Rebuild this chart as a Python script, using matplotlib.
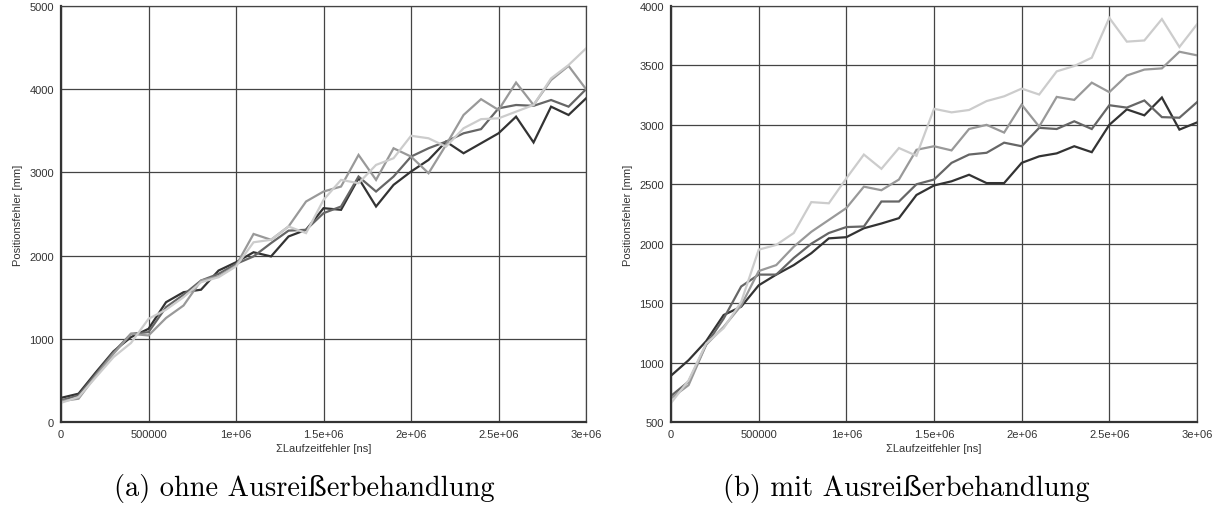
# coding: utf-8

import matplotlib
matplotlib.use("Agg")
import matplotlib.pyplot as plt
from matplotlib.ticker import FuncFormatter

# Laufzeitfehler-Summe [ns], ein Punkt alle 100000 ns
laufzeit = list(range(0, 3000001, 100000))

# (a) ohne Ausreisserbehandlung
a_dunkel = [290, 340, 600, 850, 1020, 1120, 1440, 1560, 1590, 1820, 1920,
            2040, 1990, 2230, 2310, 2570, 2550, 2930, 2590, 2850, 3010, 3150,
            3370, 3230, 3350, 3470, 3670, 3360, 3790, 3690, 3890]
a_mittel = [260, 320, 580, 840, 1060, 1080, 1380, 1530, 1700, 1780, 1900,
            1990, 2150, 2300, 2310, 2510, 2590, 2950, 2770, 2950, 3190, 3290,
            3370, 3470, 3520, 3770, 3810, 3800, 3870, 3790, 4000]
a_grau = [250, 280, 560, 820, 1060, 1040, 1250, 1400, 1700, 1750, 1880,
          2260, 2190, 2350, 2650, 2770, 2830, 3210, 2910, 3290, 3190, 2990,
          3330, 3690, 3880, 3750, 4080, 3810, 4110, 4280, 4000]
a_hell = [230, 300, 540, 780, 950, 1240, 1350, 1500, 1680, 1740, 1870,
          2160, 2190, 2350, 2270, 2670, 2910, 2870, 3090, 3170, 3440, 3410,
          3310, 3530, 3640, 3650, 3730, 3810, 4130, 4290, 4490]

# (b) mit Ausreisserbehandlung
b_dunkel = [890, 1020, 1180, 1400, 1470, 1650, 1740, 1820, 1920, 2045, 2055,
            2130, 2170, 2215, 2410, 2490, 2525, 2580, 2510, 2510, 2680,
            2735, 2760, 2820, 2770, 3000, 3130, 3080, 3230, 2960, 3020]
b_mittel = [720, 840, 1150, 1370, 1640, 1740, 1740, 1880, 2000, 2090, 2140,
            2145, 2355, 2355, 2500, 2540, 2680, 2750, 2765, 2850, 2820,
            2975, 2965, 3030, 2965, 3165, 3145, 3205, 3065, 3060, 3190]
b_grau = [700, 810, 1150, 1300, 1480, 1770, 1820, 1975, 2100, 2200, 2300,
          2480, 2450, 2540, 2790, 2820, 2785, 2965, 3000, 2935, 3170,
          2985, 3235, 3210, 3355, 3275, 3415, 3465, 3475, 3615, 3585]
b_hell = [660, 850, 1160, 1290, 1510, 1950, 1990, 2090, 2350, 2340, 2550,
          2750, 2630, 2805, 2740, 3135, 3105, 3125, 3200, 3240, 3305,
          3255, 3450, 3495, 3565, 3900, 3700, 3710, 3890, 3655, 3845]

farben = ["#333333", "#666666", "#999999", "#cccccc"]

plt.rcParams['font.family'] = ['Liberation Sans', 'DejaVu Sans']

fig = plt.figure(figsize=(12.23, 5.10), dpi=100)
ax_a = fig.add_axes([0.0499, 0.1706, 0.4293, 0.8157])
ax_b = fig.add_axes([0.5487, 0.1706, 0.4300, 0.8157])


def zeichne(ax, reihen, ymin, ymax, ystep):
    for werte, farbe in zip(reihen, farben):
        ax.plot(laufzeit, werte, color=farbe, lw=1.6, solid_joinstyle='miter')
    ax.set_xlim(0, 3000000)
    ax.set_ylim(ymin, ymax)
    ax.set_xticks(range(0, 3000001, 500000))
    ax.set_yticks(range(ymin, ymax + 1, ystep))
    ax.xaxis.set_major_formatter(FuncFormatter(lambda v, p: "%g" % v))
    ax.grid(True, color="#444444", lw=0.9)
    ax.set_axisbelow(True)
    for s in ["top", "right"]:
        ax.spines[s].set_color("#444444")
        ax.spines[s].set_linewidth(0.9)
    for s in ["left", "bottom"]:
        ax.spines[s].set_color("#333333")
        ax.spines[s].set_linewidth(1.6)
    ax.tick_params(labelsize=8, length=0, pad=5, colors="#333333")
    ax.set_xlabel("ΣLaufzeitfehler [ns]", fontsize=8, labelpad=3, color="#333333")
    ax.set_ylabel("Positionsfehler [mm]", fontsize=8, labelpad=5, color="#333333")


zeichne(ax_a, [a_dunkel, a_mittel, a_grau, a_hell], 0, 5000, 1000)
zeichne(ax_b, [b_dunkel, b_mittel, b_grau, b_hell], 500, 4000, 500)

fig.text(0.249, 0.043, "(a) ohne Ausreißerbehandlung", ha="center", va="center",
         fontsize=20.5, family=['cmr10', 'DejaVu Serif'])
fig.text(0.741, 0.043, "(b) mit Ausreißerbehandlung", ha="center", va="center",
         fontsize=20.5, family=['cmr10', 'DejaVu Serif'])

plt.savefig("out.png", dpi=100)
